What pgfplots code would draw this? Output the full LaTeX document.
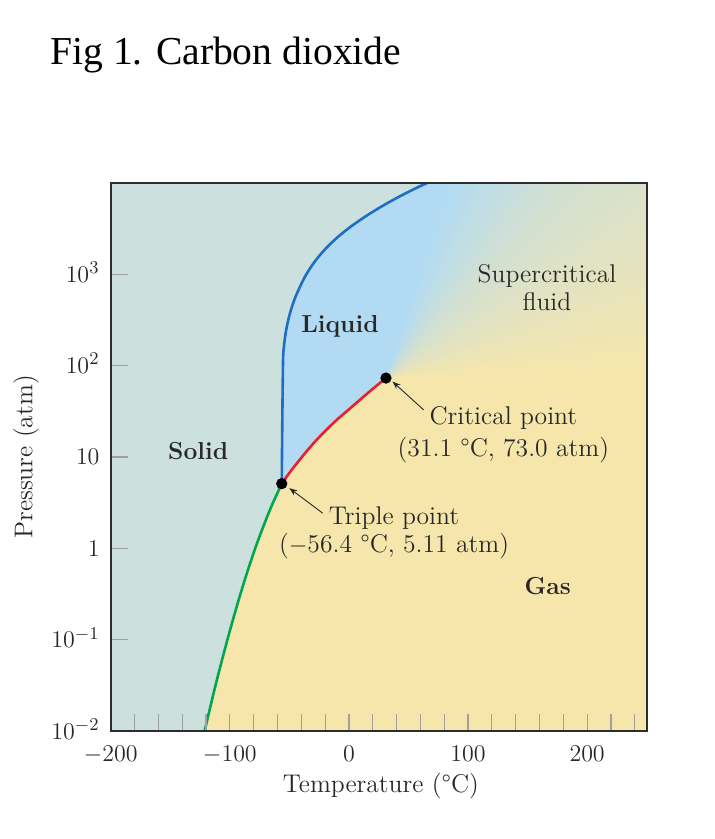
\documentclass[border=0pt]{standalone}
\usepackage{fontspec}
\usepackage{pgfplots}
\pgfplotsset{compat=1.18}
\usetikzlibrary{arrows.meta}
\newfontfamily\titlefont{Liberation Serif}
\definecolor{solidteal}{RGB}{204,225,222}
\definecolor{gasyellow}{RGB}{246,230,172}
\definecolor{liqblue}{RGB}{178,219,243}
\definecolor{meltblue}{RGB}{30,110,198}
\definecolor{vapred}{RGB}{232,32,46}
\definecolor{subgreen}{RGB}{0,166,80}
\definecolor{textgray}{RGB}{40,40,40}
\definecolor{framegray}{RGB}{45,45,45}
\definecolor{tickgray}{RGB}{160,160,160}
\pgfplotstableread{
T P
-56.4 5.11
-50 6.7
-40 9.8
-30 14.0
-20 19.2
-10 25.6
0 33.2
10 43.0
20 55.6
31.1 73.0
}\vaporcurve
\pgfplotstableread{
T P
-122.2 0.0088
-120.3 0.0112
-116 0.0194
-110 0.0404
-101.5 0.1064
-93.1 0.259
-86 0.519
-78.7 1.0
-72 1.72
-65 2.9
-56.4 5.11
}\sublcurve
\pgfplotstableread{
T P
-56.4 5.11
-56.0 20
-55.6 60
-55.23 125.5
-54.56 161.4
-53.56 207.7
-52.13 267.2
-50.21 343.7
-47.78 442.2
-44.77 568.7
-41.00 731.6
-36.82 941.2
-31.63 1211
-25.36 1558
-17.82 2004
-8.87 2578
1.67 3317
13.81 4267
27.36 5490
42.43 7063
59.16 9087
65.44 9899
78.2 11690
}\meltcurve
\begin{document}
\begin{tikzpicture}
\useasboundingbox (-55.35pt,-53.85pt) rectangle (302.15pt,365.65pt);
\node[anchor=base west, inner sep=0pt, font=\titlefont\fontsize{19.8}{24}\selectfont] at (-30.35pt,333.15pt) {Fig 1. Carbon dioxide};
\begin{axis}[
  at={(0pt,0pt)}, anchor=south west,
  scale only axis, width=268pt, height=274.3pt,
  xmin=-200, xmax=250, ymode=log, ymin=0.01, ymax=10000,
  axis background/.style={fill=gasyellow},
  axis on top,
  axis line style={draw=framegray, line width=1pt},
  xtick={-200,-100,0,100,200},
  minor xtick={-180,-160,...,240},
  xticklabels={$-200$,$-100$,$0$,$100$,$200$},
  ytick={0.01,0.1,1,10,100,1000},
  yticklabels={$10^{-2}$,$10^{-1}$,$1$,$10$,$10^{2}$,$10^{3}$},
  yminorticks=false,
  xtick pos=left, ytick pos=left,
  tick align=inside,
  major tick length=8.5pt, minor tick length=8.5pt,
  tick style={color=tickgray, line width=0.6pt},
  tick label style={font=\fontsize{12.5}{15}\selectfont, text=textgray},
  xticklabel style={anchor=base, inner sep=0pt, yshift=-15.2pt},
  yticklabel style={anchor=base east, inner sep=0pt, xshift=-5.4pt, yshift=-4pt},
  xlabel={Temperature (°C)},
  ylabel={Pressure (atm)},
  xlabel style={at={(axis description cs:0.5041,-0.0997)}, anchor=center, font=\fontsize{12.8}{15}\selectfont, text=textgray},
  ylabel style={at={(axis description cs:-0.158,0.5)}, anchor=center, rotate=0, font=\fontsize{12.8}{15}\selectfont, text=textgray},
]
% supercritical fan (cumulative wedges from the critical point)
\addplot[fill=liqblue!1!gasyellow, draw=none, forget plot] coordinates {(31.1,73) (532.9,123.7) (74.9,2.529e8)};
\addplot[fill=liqblue!4!gasyellow, draw=none, forget plot] coordinates {(31.1,73) (531.7,238.9) (74.9,2.529e8)};
\addplot[fill=liqblue!7!gasyellow, draw=none, forget plot] coordinates {(31.1,73) (529.5,460.7) (74.9,2.529e8)};
\addplot[fill=liqblue!10!gasyellow, draw=none, forget plot] coordinates {(31.1,73) (526.3,884.7) (74.9,2.529e8)};
\addplot[fill=liqblue!13!gasyellow, draw=none, forget plot] coordinates {(31.1,73) (522.2,1691) (74.9,2.529e8)};
\addplot[fill=liqblue!16!gasyellow, draw=none, forget plot] coordinates {(31.1,73) (517.2,3213) (74.9,2.529e8)};
\addplot[fill=liqblue!19!gasyellow, draw=none, forget plot] coordinates {(31.1,73) (511.3,6062) (74.9,2.529e8)};
\addplot[fill=liqblue!22!gasyellow, draw=none, forget plot] coordinates {(31.1,73) (504.4,11340) (74.9,2.529e8)};
\addplot[fill=liqblue!25!gasyellow, draw=none, forget plot] coordinates {(31.1,73) (496.6,21012) (74.9,2.529e8)};
\addplot[fill=liqblue!28!gasyellow, draw=none, forget plot] coordinates {(31.1,73) (488.0,38510) (74.9,2.529e8)};
\addplot[fill=liqblue!31!gasyellow, draw=none, forget plot] coordinates {(31.1,73) (478.5,69750) (74.9,2.529e8)};
\addplot[fill=liqblue!33!gasyellow, draw=none, forget plot] coordinates {(31.1,73) (468.1,124700) (74.9,2.529e8)};
\addplot[fill=liqblue!36!gasyellow, draw=none, forget plot] coordinates {(31.1,73) (456.9,219800) (74.9,2.529e8)};
\addplot[fill=liqblue!39!gasyellow, draw=none, forget plot] coordinates {(31.1,73) (444.9,381600) (74.9,2.529e8)};
\addplot[fill=liqblue!42!gasyellow, draw=none, forget plot] coordinates {(31.1,73) (432.1,651600) (74.9,2.529e8)};
\addplot[fill=liqblue!45!gasyellow, draw=none, forget plot] coordinates {(31.1,73) (418.5,1.094e6) (74.9,2.529e8)};
\addplot[fill=liqblue!48!gasyellow, draw=none, forget plot] coordinates {(31.1,73) (404.2,1.803e6) (74.9,2.529e8)};
\addplot[fill=liqblue!51!gasyellow, draw=none, forget plot] coordinates {(31.1,73) (389.2,2.914e6) (74.9,2.529e8)};
\addplot[fill=liqblue!56!gasyellow, draw=none, forget plot] coordinates {(31.1,73) (373.5,4.616e6) (74.9,2.529e8)};
\addplot[fill=liqblue!61!gasyellow, draw=none, forget plot] coordinates {(31.1,73) (357.2,7.164e6) (74.9,2.529e8)};
\addplot[fill=liqblue!65!gasyellow, draw=none, forget plot] coordinates {(31.1,73) (340.2,1.087e7) (74.9,2.529e8)};
\addplot[fill=liqblue!70!gasyellow, draw=none, forget plot] coordinates {(31.1,73) (322.7,1.613e7) (74.9,2.529e8)};
\addplot[fill=liqblue!75!gasyellow, draw=none, forget plot] coordinates {(31.1,73) (304.6,2.338e7) (74.9,2.529e8)};
\addplot[fill=liqblue!79!gasyellow, draw=none, forget plot] coordinates {(31.1,73) (285.9,3.308e7) (74.9,2.529e8)};
\addplot[fill=liqblue!84!gasyellow, draw=none, forget plot] coordinates {(31.1,73) (266.8,4.565e7) (74.9,2.529e8)};
\addplot[fill=liqblue!88!gasyellow, draw=none, forget plot] coordinates {(31.1,73) (247.3,6.145e7) (74.9,2.529e8)};
\addplot[fill=liqblue!93!gasyellow, draw=none, forget plot] coordinates {(31.1,73) (227.3,8.054e7) (74.9,2.529e8)};
\addplot[fill=liqblue!98!gasyellow, draw=none, forget plot] coordinates {(31.1,73) (206.9,1.029e8) (74.9,2.529e8)};
% liquid region
\addplot[fill=liqblue, draw=none, forget plot] coordinates {
  (-56.4,5.11) (-50,6.7) (-40,9.8) (-30,14.0) (-20,19.2) (-10,25.6) (0,33.2) (10,43.0) (20,55.6) (31.1,73.0)
  (186.3,1.278e8) (-80,1.278e8) (-80,5.11) (-56.4,5.11)};
% solid region
\addplot[fill=solidteal, draw=none, forget plot] coordinates {
  (-210,0.0088) (-122.2,0.0088) (-120.3,0.0112) (-116,0.0194) (-110,0.0404) (-101.5,0.1064) (-93.1,0.259) (-86,0.519) (-78.7,1.0) (-72,1.72) (-65,2.9) (-56.4,5.11)
  (-56.0,20) (-55.6,60) (-55.23,125.5) (-54.56,161.4) (-53.56,207.7) (-52.13,267.2) (-50.21,343.7) (-47.78,442.2) (-44.77,568.7) (-41.00,731.6) (-36.82,941.2) (-31.63,1211) (-25.36,1558) (-17.82,2004) (-8.87,2578) (1.67,3317) (13.81,4267) (27.36,5490) (42.43,7063) (59.16,9087) (65.44,9899) (78.2,11690)
  (-210,11690)};
% boundary curves
\addplot[subgreen, line width=1.3pt, smooth, tension=0.5, forget plot] table[x=T,y=P] {\sublcurve};
\addplot[vapred, line width=1.3pt, smooth, tension=0.5, forget plot] table[x=T,y=P] {\vaporcurve};
\addplot[meltblue, line width=1.3pt, smooth, tension=0.5, forget plot] table[x=T,y=P] {\meltcurve};
% triple and critical points
\addplot[only marks, mark=*, mark size=2.6pt, black, forget plot] coordinates {(-56.4,5.11) (31.1,73.0)};
% annotations
\draw[-{Stealth[length=4pt,width=3pt]}, line width=0.45pt, textgray] (axis cs:62.8,32.7) -- (axis cs:36.6,66.8);
\draw[-{Stealth[length=4pt,width=3pt]}, line width=0.45pt, textgray] (axis cs:-22.0,2.43) -- (axis cs:-50.0,4.56);
\begin{scope}[every node/.style={anchor=base, inner sep=0pt, text=textgray, font=\fontsize{12.8}{15}\selectfont}]
\node at (axis cs:129.7,22.4) {Critical point};
\node at (axis cs:129.7,10.1) {(31.1 °C, 73.0 atm)};
\node at (axis cs:37.9,1.806) {Triple point};
\node at (axis cs:37.9,0.90) {($-$56.4 °C, 5.11 atm)};
\node at (axis cs:166.3,803) {Supercritical};
\node at (axis cs:166.3,396) {fluid};
\node[font=\fontsize{12.3}{15}\selectfont\bfseries] at (axis cs:-7.5,228) {Liquid};
\node[font=\fontsize{12.3}{15}\selectfont\bfseries] at (axis cs:-126.6,9.29) {Solid};
\node[font=\fontsize{12.3}{15}\selectfont\bfseries] at (axis cs:166.9,0.31) {Gas};
\end{scope}
\end{axis}
\end{tikzpicture}
\end{document}
